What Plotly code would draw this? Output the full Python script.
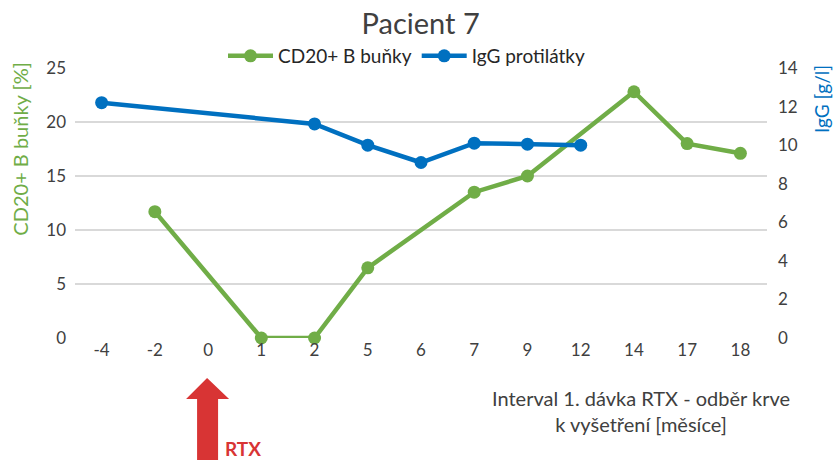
import plotly.graph_objects as go

categories = ["-4", "-2", "0", "1", "2", "5", "6", "7", "9", "12", "14", "17", "18"]
cd20_values = [None, 11.7, None, 0, 0, 6.5, None, 13.5, 15.0, None, 22.8, 18.0, 17.1]
igg_values = [12.2, None, None, None, 11.1, 10.0, 9.1, 10.1, 10.05, 10.0, None, None, None]
left_ticks = [0, 5, 10, 15, 20, 25]
right_ticks = [0, 2, 4, 6, 8, 10, 12, 14]
rtx_category = "0"

GREEN = "#70ad47"
BLUE = "#0070c0"
RED = "#d83434"
FONT = "Lato"
TICKC = "#404040"

fig = go.Figure()
fig.add_trace(go.Scatter(
    x=categories, y=igg_values, name="IgG protilátky", yaxis="y2",
    mode="lines+markers", connectgaps=True, legendrank=2, cliponaxis=False,
    line=dict(color=BLUE, width=4.5), marker=dict(color=BLUE, size=13),
))
fig.add_trace(go.Scatter(
    x=categories, y=cd20_values, name="CD20+ B buňky",
    mode="lines+markers", connectgaps=True, legendrank=1, cliponaxis=False,
    line=dict(color=GREEN, width=4.5), marker=dict(color=GREEN, size=13),
))

fig.update_layout(
    width=833, height=460,
    margin=dict(l=75, r=66, t=68, b=122, autoexpand=False),
    paper_bgcolor="white", plot_bgcolor="white",
    font=dict(family=FONT, size=17, color=TICKC),
    title=dict(text="Pacient 7", x=0.505, xanchor="center", y=1 - 24 / 460, yanchor="middle",
               yref="container", font=dict(size=29, color="#404040")),
    showlegend=True,
    legend=dict(orientation="h", xref="container", yref="container", x=0.488, xanchor="center",
                y=1 - 56 / 460, yanchor="middle", font=dict(size=19, color="#262626"),
                bgcolor="rgba(0,0,0,0)", itemwidth=45, tracegroupgap=0),
    xaxis=dict(type="category", categoryorder="array", categoryarray=categories,
               range=[-0.5, len(categories) - 0.5], showgrid=False, showline=False,
               zeroline=False, ticks="", tickfont=dict(size=17, color=TICKC)),
    yaxis=dict(range=[0, 25], tickvals=left_ticks, showgrid=True, gridcolor="#d9d9d9",
               gridwidth=1.5, zeroline=False, showline=False, ticks="",
               tickfont=dict(size=17, color=TICKC), ticklabelstandoff=8),
    yaxis2=dict(range=[0, 14], tickvals=right_ticks, overlaying="y", side="right",
                showgrid=False, zeroline=False, showline=False, ticks="",
                tickfont=dict(size=17, color=TICKC), ticklabelstandoff=10),
)

# Axis titles as annotations
fig.add_annotation(text="CD20+ B buňky [%]", xref="paper", yref="paper", x=-0.08, y=0.7,
                   xanchor="center", yanchor="middle", textangle=-90, showarrow=False,
                   font=dict(size=20, color=GREEN))
fig.add_annotation(text="IgG [g/l]", xref="paper", yref="paper", x=1.0, y=0.885,
                   xanchor="center", yanchor="middle", textangle=-90, showarrow=False,
                   font=dict(size=19, color=BLUE), xshift=54)
fig.add_annotation(text="Interval 1. dávka RTX - odběr krve<br>k vyšetření [měsíce]",
                   xref="paper", yref="paper", x=(641 - 75) / 692, y=0, yanchor="top",
                   xanchor="center", yshift=-46, showarrow=False, align="center",
                   font=dict(size=20, color="#404040"))

# RTX arrow (anchored at the "0" category)
rtx_idx = categories.index(rtx_category)
fig.add_shape(type="path", xref="x", yref="paper", xsizemode="pixel", ysizemode="pixel",
              xanchor=rtx_idx, yanchor=0,
              path="M -1,-40 L 21,-61 L 10,-61 L 10,-140 L -11,-140 L -11,-61 L -22,-61 Z",
              fillcolor=RED, line=dict(width=0))
fig.add_annotation(text="<b>RTX</b>", xref="x", yref="paper", x=rtx_idx, y=0,
                   xanchor="left", yanchor="middle", xshift=15, yshift=-110, showarrow=False,
                   font=dict(size=19, color=RED))

fig.write_html("out.html", config={"displayModeBar": False},
               post_script="document.body.style.margin='0';")
